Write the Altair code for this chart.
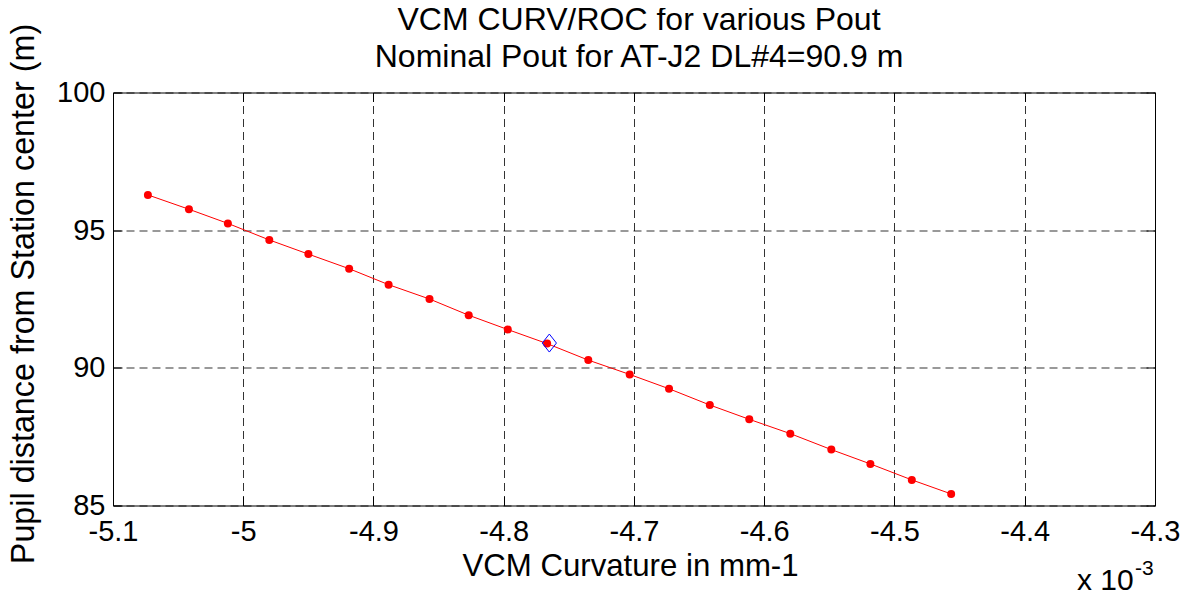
import altair as alt
import pandas as pd

# VCM curvature (x 10^-3 mm^-1) and pupil distance (m)
curvature = [-5.0732, -5.0417, -5.0118, -4.9800, -4.9500, -4.9187, -4.8884,
             -4.8570, -4.8269, -4.7969, -4.7667, -4.7351, -4.7033, -4.6731,
             -4.6418, -4.6115, -4.5800, -4.5485, -4.5185, -4.4867, -4.4565]
pupil = [96.28, 95.76, 95.245, 94.645, 94.13, 93.60, 93.02, 92.50, 91.91,
         91.39, 90.88, 90.28, 89.76, 89.24, 88.65, 88.13, 87.61, 87.03,
         86.51, 85.93, 85.42]
nominal_curv = [-4.765]
nominal_pupil = [90.9]

x_ticks = [-5.1, -5.0, -4.9, -4.8, -4.7, -4.6, -4.5, -4.4, -4.3]
y_ticks = [85, 90, 95, 100]
title_line1 = ["VCM CURV/ROC for various Pout"]
title_line2 = ["Nominal Pout for AT-J2 DL#4=90.9 m"]
x_title = "VCM Curvature in mm-1"
y_title = "Pupil distance from Station center (m)"
exp_base = ["x 10"]
exp_power = ["-3"]

FONT = "Liberation Sans"

df = pd.DataFrame({"curv": curvature, "pupil": pupil})
nom = pd.DataFrame({"curv": nominal_curv, "pupil": nominal_pupil})

xscale = alt.Scale(domain=[x_ticks[0], x_ticks[-1]], nice=False, zero=False)
yscale = alt.Scale(domain=[y_ticks[0], y_ticks[-1]], nice=False, zero=False)

xaxis = alt.Axis(values=x_ticks, labelExpr="'' + datum.value", grid=True,
                 gridColor="#000000", gridDash=[8, 5], gridOpacity=0.8,
                 domain=False, ticks=False, tickSize=0,
                 labelFont=FONT, labelFontSize=29, labelColor="black",
                 labelPadding=35, labelBaseline="alphabetic",
                 labelFlush=False, labelOverlap=False,
                 title=x_title, titleFont=FONT, titleFontSize=31.2,
                 titleFontWeight="normal", titleColor="black",
                 titleX=517, titleY=70, titleBaseline="alphabetic")
yaxis = alt.Axis(values=y_ticks, grid=True,
                 gridColor="#000000", gridDash=[8, 5], gridOpacity=0.8,
                 domain=False, ticks=False, tickSize=0,
                 labelFont=FONT, labelFontSize=29, labelColor="black",
                 labelPadding=8, labelFlush=False, labelOverlap=False,
                 title=y_title, titleFont=FONT, titleFontSize=32.3,
                 titleFontWeight="normal", titleColor="black",
                 titleAngle=270, titleX=-79.5, titleY=201,
                 titleBaseline="alphabetic", titleAlign="center")


def tick_axis(vals, orient):
    return alt.Axis(values=vals, orient=orient, offset=-9, tickSize=9,
                    tickColor="black", tickWidth=1, domain=False, labels=False,
                    grid=False, title=None)


line = alt.Chart(df).mark_line(color="red", strokeWidth=1).encode(
    x=alt.X("curv:Q", scale=xscale, axis=xaxis),
    y=alt.Y("pupil:Q", scale=yscale, axis=yaxis),
)
pts = alt.Chart(df).mark_point(color="red", filled=True, size=64, opacity=1).encode(
    x=alt.X("curv:Q", scale=xscale, axis=tick_axis(x_ticks, "top")),
    y=alt.Y("pupil:Q", scale=yscale, axis=tick_axis(y_ticks, "right")),
)
diamond = alt.Chart(nom).mark_point(
    shape="M0,-1L0.79,0L0,1L-0.79,0Z", size=324, filled=False,
    stroke="blue", color="blue", strokeWidth=1, opacity=1
).encode(
    x=alt.X("curv:Q", scale=xscale, axis=tick_axis(x_ticks, "bottom")),
    y=alt.Y("pupil:Q", scale=yscale, axis=tick_axis(y_ticks, "left")),
)

def label(texts, x, y, size, align="left"):
    return alt.Chart(pd.DataFrame({"t": texts})).mark_text(
        align=align, baseline="alphabetic", font=FONT, fontSize=size, color="black"
    ).encode(x=alt.value(x), y=alt.value(y), text="t:N")

t1 = label(title_line1, 526, -62.5, 32, "center")
t2 = label(title_line2, 526, -25.5, 32, "center")
t_base = label(exp_base, 964, 497, 30)
t_pow = label(exp_power, 1022, 482.5, 21)

chart = alt.layer(line, pts, diamond, t1, t2, t_base, t_pow).resolve_axis(
    x="independent", y="independent"
).properties(
    width=1042, height=413,
    autosize=alt.AutoSizeParams(type="none"),
    padding={"left": 105, "top": 84.5, "right": 25, "bottom": 84.5},
    background="white",
).configure_view(stroke="black", strokeWidth=1)

chart.save("out.html", embed_options={"renderer": "svg", "actions": False})
